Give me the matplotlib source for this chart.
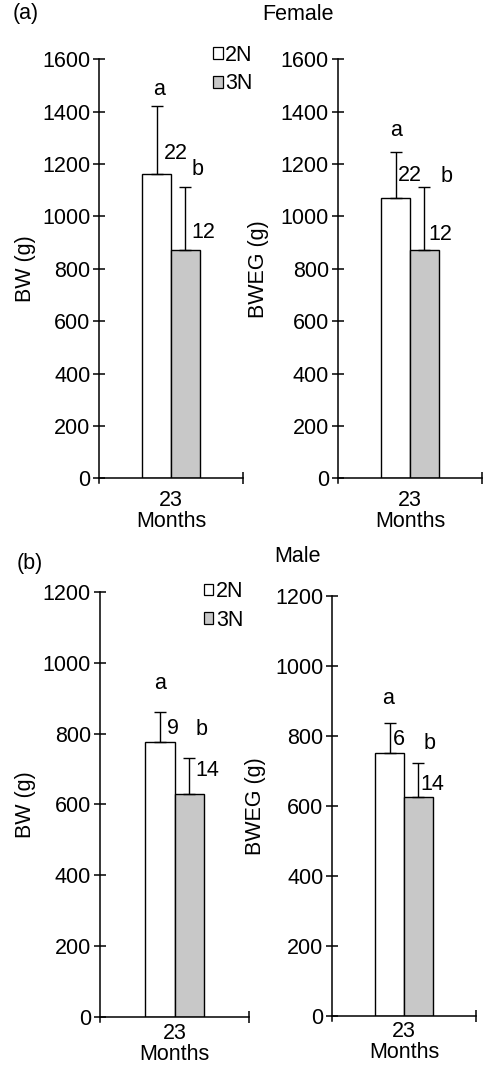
import matplotlib
matplotlib.use("Agg")
import matplotlib.pyplot as plt
from matplotlib.patches import Patch
from matplotlib.ticker import FixedLocator

plt.rcParams['font.family'] = ['Liberation Sans', 'DejaVu Sans']
plt.rcParams['font.size'] = 15.5

# ---------------- data ----------------
groups = ["2N", "3N"]
x_label = "23\nMonths"

female_bw_mean = [1161, 872]
female_bw_err = [261, 242]
female_bw_n = ["22", "12"]
female_bweg_mean = [1070, 872]
female_bweg_err = [177, 241]
female_bweg_n = ["22", "12"]

male_bw_mean = [777, 630]
male_bw_err = [85, 100]
male_bw_n = ["9", "14"]
male_bweg_mean = [752, 625]
male_bweg_err = [83, 97]
male_bweg_n = ["6", "14"]

sig_letters = ["a", "b"]
female_yticks = [0, 200, 400, 600, 800, 1000, 1200, 1400, 1600]
male_yticks = [0, 200, 400, 600, 800, 1000, 1200]

# ---------------- style / layout ----------------
bar_colors = ["white", "#c8c8c8"]
bar_x = [-0.2, 0.2]
bar_w = 0.4

fig = plt.figure(figsize=(4.84, 10.68), dpi=100)

# axes rectangles in figure fraction
rects = {
    "tl": [0.2052, 0.5520, 0.2963, 0.3925],
    "tr": [0.6983, 0.5520, 0.2975, 0.3925],
    "bl": [0.2066, 0.0475, 0.3079, 0.3985],
    "br": [0.6866, 0.0490, 0.2963, 0.3932],
}
xlabel_pad = {"tl": 8, "tr": 8, "bl": 4, "br": 4}
# label positions (axes x for ylabel) and annotation positions (data coords)
ylabel_x = {"tl": -0.518, "tr": -0.553, "bl": -0.503, "br": -0.539}
annot_pos = {
    "tl": [(-0.17, 1483), (-0.10, 1242), (0.377, 1181), (0.29, 937)],
    "tr": [(-0.20, 1330), (-0.17, 1156), (0.51, 1151), (0.26, 933)],
    "bl": [(-0.20, 940), (-0.10, 813), (0.36, 811), (0.28, 697)],
    "br": [(-0.22, 907), (-0.15, 788), (0.35, 778), (0.23, 660)],
}

panels = [
    ("tl", female_bw_mean, female_bw_err, female_bw_n, "BW (g)", female_yticks),
    ("tr", female_bweg_mean, female_bweg_err, female_bweg_n, "BWEG (g)", female_yticks),
    ("bl", male_bw_mean, male_bw_err, male_bw_n, "BW (g)", male_yticks),
    ("br", male_bweg_mean, male_bweg_err, male_bweg_n, "BWEG (g)", male_yticks),
]

for key, means, errs, ns, ylab, yt in panels:
    ax = fig.add_axes(rects[key])
    ax.bar(bar_x, means, width=bar_w, color=bar_colors, edgecolor="black",
           linewidth=1.0, zorder=2)
    ax.errorbar(bar_x, means, yerr=[[0, 0], errs], fmt="none", ecolor="black",
                elinewidth=1.0, capsize=4.5, capthick=1.0, zorder=3)
    ax.set_xlim(-1, 1)
    ax.set_ylim(0, yt[-1])
    ax.set_yticks(yt)
    ax.set_yticklabels([str(v) for v in yt])
    ax.set_xticks([0])
    ax.set_xticklabels([x_label], linespacing=1.0)
    ax.xaxis.set_minor_locator(FixedLocator([1]))
    ax.tick_params(axis="x", which="major", length=0, pad=xlabel_pad[key])
    ax.tick_params(axis="x", which="minor", length=9, width=1.1, direction="inout")
    ax.tick_params(axis="y", which="major", length=9, width=1.1, direction="inout", pad=2)
    for s in ("top", "right"):
        ax.spines[s].set_visible(False)
    for s in ("left", "bottom"):
        ax.spines[s].set_linewidth(1.1)
    ax.spines["left"].set_bounds(-yt[-1] * 0.012, yt[-1])
    ax.set_ylabel(ylab)
    ax.yaxis.set_label_coords(ylabel_x[key], 0.5)
    ax.yaxis.label.set_verticalalignment("center")

    pos = annot_pos[key]
    ax.text(pos[0][0], pos[0][1], sig_letters[0], ha="center", va="center")
    ax.text(pos[1][0], pos[1][1], ns[0], ha="left", va="center")
    ax.text(pos[2][0], pos[2][1], sig_letters[1], ha="center", va="center")
    ax.text(pos[3][0], pos[3][1], ns[1], ha="left", va="center")

# legends
handles = [Patch(facecolor=c, edgecolor="black", linewidth=0.9) for c in bar_colors]
for (lx, ly) in [(0.440, 0.958), (0.421, 0.456)]:
    fig.legend(handles, groups, loc="upper left", bbox_to_anchor=(lx, ly),
               bbox_transform=fig.transFigure, frameon=False,
               handlelength=0.45, handleheight=0.45, handletextpad=0.12,
               labelspacing=0.35, borderpad=0, borderaxespad=0)

# panel labels and titles
fig.text(26 / 484, 1 - 14 / 1068, "(a)", ha="center", va="center")
fig.text(298 / 484, 1 - 14 / 1068, "Female", ha="center", va="center")
fig.text(30 / 484, 1 - 563 / 1068, "(b)", ha="center", va="center")
fig.text(298 / 484, 1 - 557 / 1068, "Male", ha="center", va="center")

fig.savefig("out.png", dpi=100, facecolor="white")
